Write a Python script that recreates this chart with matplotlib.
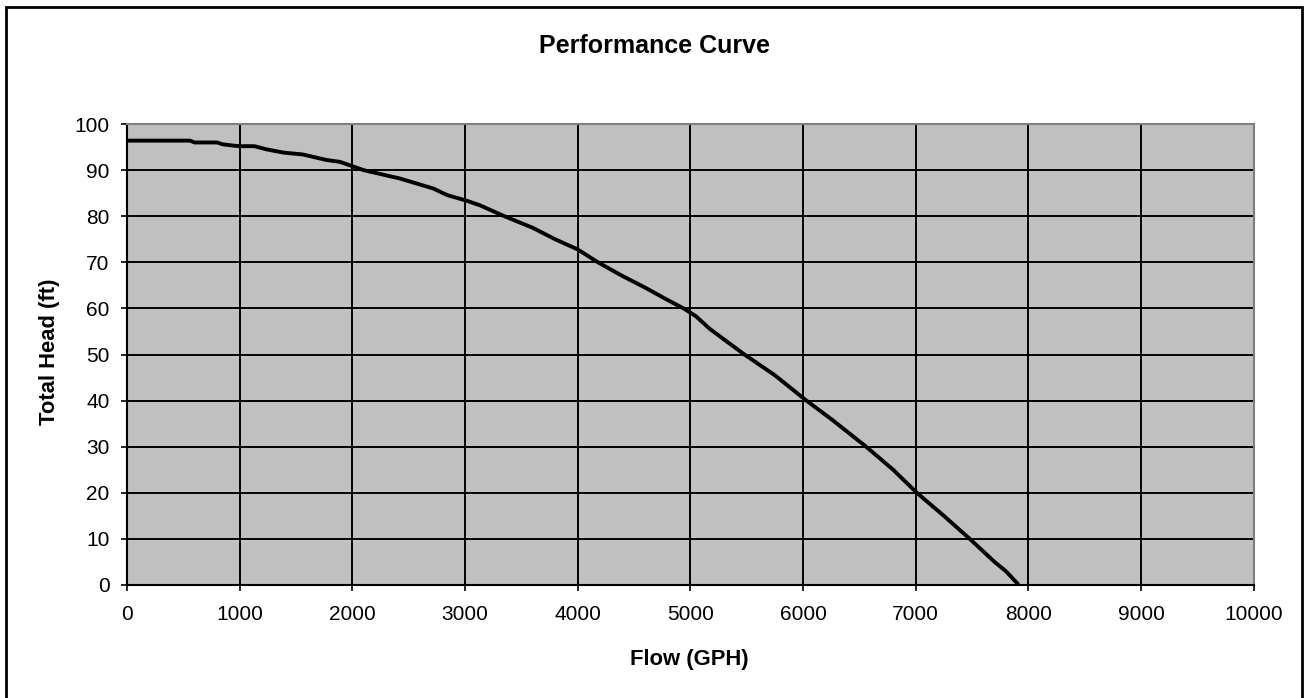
import matplotlib
matplotlib.use("Agg")
import matplotlib.pyplot as plt
from matplotlib.patches import Rectangle

plt.rcParams['font.family'] = ['Liberation Sans', 'DejaVu Sans']

# pump performance curve
flow_gph = [0, 560, 600, 800, 850, 950, 1000, 1130, 1240, 1390, 1560, 1770, 1890,
            2100, 2420, 2720, 2840, 3010, 3130, 3350, 3600, 3800, 4000, 4180, 4400,
            4600, 4800, 4940, 5050, 5170, 5480, 5750, 6030, 6250, 6560, 6800, 7010,
            7250, 7480, 7700, 7800, 7900]
head_ft = [96.4, 96.4, 96.0, 96.0, 95.6, 95.3, 95.2, 95.2, 94.5, 93.8, 93.4, 92.2, 91.8,
           90.0, 88.2, 86.0, 84.6, 83.4, 82.4, 80.0, 77.5, 75.0, 72.8, 70.0, 67.0,
           64.5, 61.8, 60.0, 58.3, 55.6, 50.0, 45.5, 40.0, 36.0, 30.0, 25.0, 20.0,
           15.0, 10.0, 5.0, 3.0, 0.4]

fig = plt.figure(figsize=(13.06, 6.98), dpi=100)
ax = fig.add_axes([0.0972, 0.1619, 0.8628, 0.6604])

ax.plot(flow_gph, head_ft, color='black', linewidth=2.8, zorder=3)

ax.set_facecolor('#C0C0C0')
ax.set_xlim(0, 10000)
ax.set_ylim(0, 100)
ax.set_xticks(range(0, 10001, 1000))
ax.set_yticks(range(0, 101, 10))
ax.grid(True, color='black', linewidth=1.4)
ax.set_axisbelow(True)
ax.tick_params(labelsize=15, length=4.5, width=1.2)
ax.tick_params(axis='x', pad=10)
ax.tick_params(axis='y', pad=8)

for side in ['top', 'right']:
    ax.spines[side].set_color('#808080')
    ax.spines[side].set_linewidth(1.5)
for side in ['left', 'bottom']:
    ax.spines[side].set_color('black')
    ax.spines[side].set_linewidth(1.5)

ax.set_xlabel('Flow (GPH)', fontsize=15.8, fontweight='bold', va='center')
ax.xaxis.set_label_coords(0.4987, -0.1627)
ax.set_ylabel('Total Head (ft)', fontsize=15.8, fontweight='bold', va='center')
ax.yaxis.set_label_coords(-0.0683, 0.5065)
fig.text(0.5015, 0.934, 'Performance Curve', fontsize=18, fontweight='bold',
         ha='center', va='center')

# outer chart border
fig.patches.append(Rectangle((0.0045, -0.01), 0.9925, 0.9995, transform=fig.transFigure,
                             fill=False, edgecolor='black', linewidth=2))

fig.savefig('out.png', dpi=100)
